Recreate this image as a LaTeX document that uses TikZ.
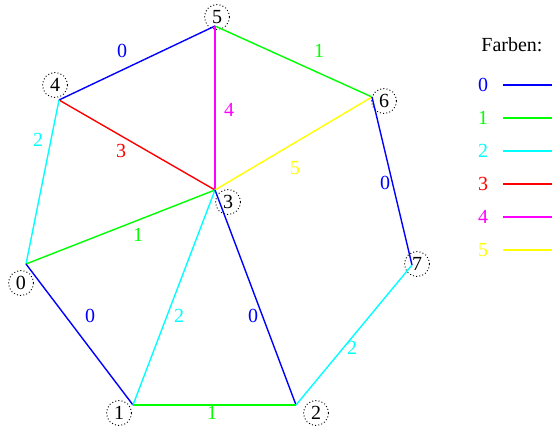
\documentclass[tikz,border=0pt]{standalone}
\usepackage{fontspec}
\setmainfont{Liberation Serif}
\usetikzlibrary{positioning}
\definecolor{pblue}{RGB}{0,0,255}
\definecolor{pgreen}{RGB}{0,255,0}
\definecolor{pcyan}{RGB}{0,255,255}
\definecolor{pred}{RGB}{255,0,0}
\definecolor{pmagenta}{RGB}{255,0,255}
\definecolor{pyellow}{RGB}{255,255,0}

\begin{document}
\begin{tikzpicture}[x=1pt,y=-1pt,
every node/.style={font=\fontsize{20}{23}\selectfont},
vlabel/.style={circle,draw,dash pattern=on 1pt off 2.2pt,line width=0.9pt,inner sep=0pt,minimum size=25pt},
edge/.style={line width=1.4pt},
elabel/.style={inner sep=1pt}]
\useasboundingbox (0,0) rectangle (552,427);
% vertices
\coordinate (V0) at (26,264);
\coordinate (V1) at (133,405);
\coordinate (V2) at (296,405);
\coordinate (V3) at (215,190);
\coordinate (V4) at (59,100);
\coordinate (V5) at (215,26);
\coordinate (V6) at (372,97);
\coordinate (V7) at (412,265);
\node[vlabel] (L0) at (21,283) {0};
\node[vlabel] (L1) at (119,413) {1};
\node[vlabel] (L2) at (316,413) {2};
\node[vlabel] (L3) at (228,202) {3};
\node[vlabel] (L4) at (55,85) {4};
\node[vlabel] (L5) at (217,17) {5};
\node[vlabel] (L6) at (384,101) {6};
\node[vlabel] (L7) at (417,264) {7};
% edges
\draw[edge,pblue] (V5)--(V4);
\draw[edge,pgreen] (V5)--(V6);
\draw[edge,pred] (V4)--(V3);
\draw[edge,pmagenta] (V5)--(V3);
\draw[edge,pyellow] (V6)--(V3);
\draw[edge,pblue] (V6)--(V7);
\draw[edge,pcyan] (V4)--(V0);
\draw[edge,pgreen] (V0)--(V3);
\draw[edge,pblue] (V0)--(V1);
\draw[edge,pcyan] (V1)--(V3);
\draw[edge,pblue] (V3)--(V2);
\draw[edge,pcyan] (V7)--(V2);
\draw[edge,pgreen] (V1)--(V2);
% edge labels
\node[elabel,pblue] (E54) at (122,51) {0};
\node[elabel,pgreen] (E56) at (319,51) {1};
\node[elabel,pred] (E43) at (121,151) {3};
\node[elabel,pmagenta] (E53) at (229,110) {4};
\node[elabel,pyellow] (E63) at (295,168) {5};
\node[elabel,pblue] (E67) at (385,183) {0};
\node[elabel,pcyan] (E40) at (38,140) {2};
\node[elabel,pgreen] (E03) at (138,235) {1};
\node[elabel,pblue] (E01) at (90,316) {0};
\node[elabel,pcyan] (E13) at (179,316) {2};
\node[elabel,pblue] (E32) at (253,316) {0};
\node[elabel,pcyan] (E72) at (352,348) {2};
\node[elabel,pgreen] (E12) at (212,413) {1};
% legend
\node (farben) at (512,45) {Farben:};
\foreach \c [count=\i from 0] in {pblue,pgreen,pcyan,pred,pmagenta,pyellow} {
  \node[\c] (K\i) at (483,85+33*\i) {\i};
  \coordinate (KA\i) at (503,85+33*\i);
  \coordinate (KB\i) at (552,85+33*\i);
  \draw[edge,\c] (KA\i)--(KB\i);
}
\end{tikzpicture}
\end{document}
